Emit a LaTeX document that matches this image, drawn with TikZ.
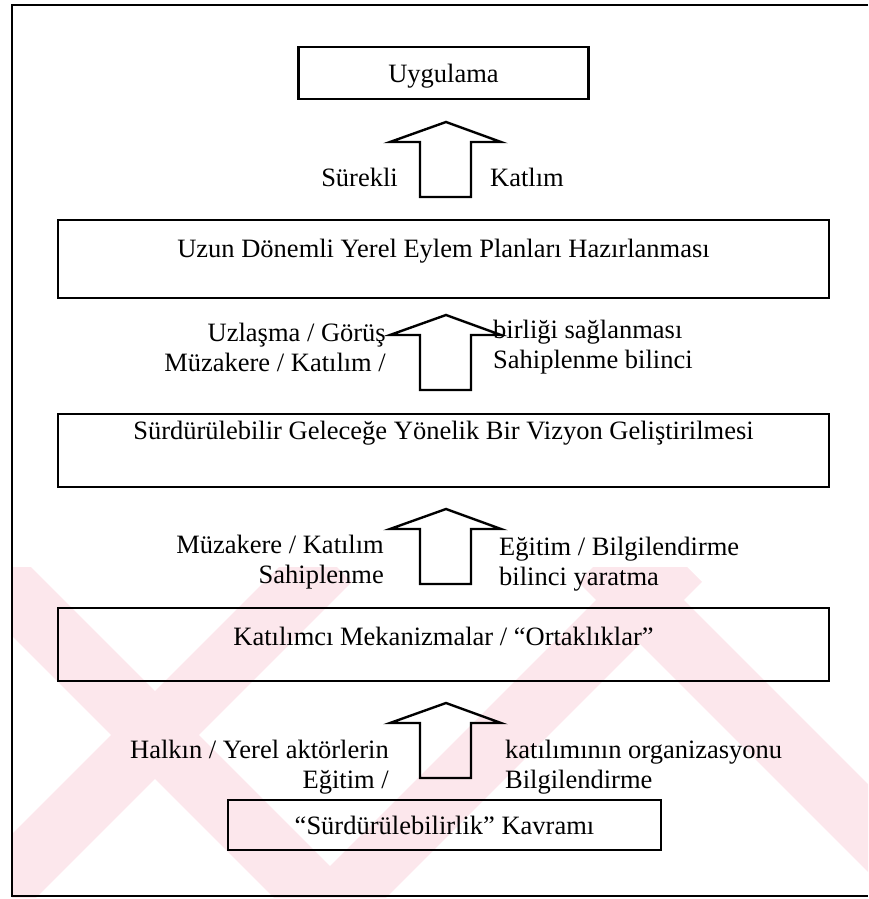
\documentclass[tikz,border=0pt]{standalone}
\usepackage{fontspec}
\setmainfont{Liberation Serif}
\definecolor{wmpink}{RGB}{252,231,236}
\begin{document}
\begin{tikzpicture}[x=1pt,y=-1pt,
  box/.style={draw, line width=2.6pt, inner sep=0pt},
  txt/.style={inner sep=0pt, font=\fontsize{26.5}{30}\selectfont},
  lableft/.style={txt, align=right, anchor=east},
  labright/.style={txt, align=left, anchor=west},
  band/.style={wmpink, line width=62pt},
  uparr/.pic={
    \draw[line width=2.4pt, line join=miter]
      (-26,75) -- (-26,20) -- (-56,20) -- (0,0) -- (55,20) -- (25,20) -- (25,75) -- cycle;
  }]
\useasboundingbox (0,0) rectangle (868,899);

% faint background stripes in the lower part
\begin{scope}
  \clip (12,567) rectangle (868,897);
  \draw[band] (-120,460) -- (330,910);
  \draw[band] (-120,1010) -- (330,560);
  \draw[band] (330,910) -- (680,560);
  \draw[band] (600,560) -- (950,910);
\end{scope}

% outer frame (open on the right)
\draw[line width=2.2pt] (868,5) -- (12,5) -- (12,896) -- (868,896);

% boxes
\node[box, minimum width=290pt, minimum height=52pt] (uyg) at (443.5,73) {};
\node[txt] (uygt) at (443.5,76) {Uygulama};

\node[box, minimum width=771pt, minimum height=78pt] (plan) at (443.5,259) {};
\node[txt] (plant) at (443.5,251) {Uzun Dönemli Yerel Eylem Planları Hazırlanması};

\node[box, minimum width=771pt, minimum height=73pt] (viz) at (443.5,450.5) {};
\node[txt] (vizt) at (443.5,433) {Sürdürülebilir Geleceğe Yönelik Bir Vizyon Geliştirilmesi};

\node[box, minimum width=771pt, minimum height=73pt] (kat) at (443.5,644.5) {};
\node[txt] (katt) at (443.5,636) {Katılımcı Mekanizmalar / “Ortaklıklar”};

\node[box, minimum width=433pt, minimum height=50pt] (kav) at (444.5,825) {};
\node[txt] (kavt) at (444.5,825) {“Sürdürülebilirlik” Kavramı};

% block arrows from each box up to the next one
\coordinate (a1) at (446,122);
\coordinate (a2) at (446,315);
\coordinate (a3) at (446,509);
\coordinate (a4) at (446,703);
\pic at (a1) {uparr};
\pic at (a2) {uparr};
\pic at (a3) {uparr};
\pic at (a4) {uparr};

% arrow labels
\node[lableft] (l1) at (398,177) {Sürekli};
\node[labright] (r1) at (490,177) {Katlım};

\node[lableft] (l2) at (386,347) {Uzlaşma / Görüş\\Müzakere / Katılım /};
\node[labright] (r2) at (493,347) {birliği sağlanması\\Sahiplenme bilinci};

\node[lableft] (l3) at (384,562) {Müzakere / Katılım\\Sahiplenme};
\node[labright] (r3) at (499,564) {Eğitim / Bilgilendirme\\bilinci yaratma};

\node[lableft] (l4) at (389,767) {Halkın / Yerel aktörlerin\\Eğitim /};
\node[labright] (r4) at (505,767) {katılımının organizasyonu\\Bilgilendirme};
\end{tikzpicture}
\end{document}
